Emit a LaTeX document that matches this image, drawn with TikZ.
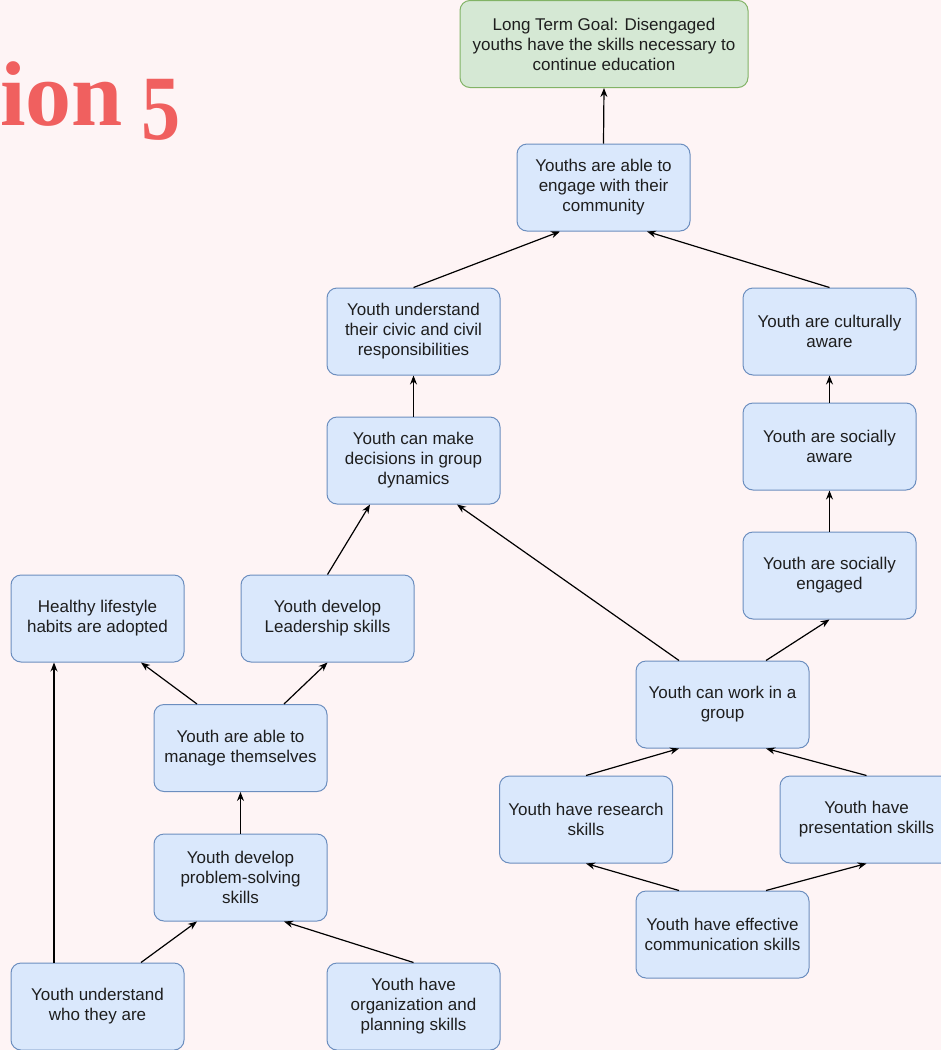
\documentclass[tikz,border=0pt]{standalone}
\usepackage{fontspec}
\usepackage{graphicx}
\setmainfont{Liberation Sans}
\newfontfamily\titlefont{Liberation Serif}
\usetikzlibrary{arrows.meta,calc}
\definecolor{pagebg}{HTML}{FEF4F5}
\definecolor{titlered}{HTML}{F0605F}
\definecolor{bluefill}{HTML}{DAE8FC}
\definecolor{blueline}{HTML}{6C8EBF}
\definecolor{greenfill}{HTML}{D5E8D4}
\definecolor{greenline}{HTML}{82B366}
\definecolor{ink}{HTML}{1E1E1E}
\begin{document}
\begin{tikzpicture}[x=1pt,y=-1pt,
  box/.style={draw=blueline,fill=bluefill,rounded corners=10pt,line width=1pt,
    minimum width=173pt,minimum height=87pt,inner sep=2pt,align=center,
    text=ink,font=\fontsize{17}{20}\selectfont},
  goalbox/.style={box,draw=greenline,fill=greenfill,minimum width=288pt},
  link/.style={draw=black,line width=1.2pt,-{Stealth[length=9pt,width=7pt]}}]
\fill[pagebg] (0,0) rectangle (941,1050);
\useasboundingbox (0,0) rectangle (941,1050);

% heading fragment (old-style figure imitated by lowering a narrowed digit)
\node[anchor=base west,inner sep=0pt,text=titlered,
  font=\titlefont\bfseries\fontsize{92}{92}\selectfont] (title) at (0,125)
  {ion\hspace{0.2em}\raisebox{-14pt}{\scalebox{0.85}[1]{5}}};

% outcome boxes
\node[goalbox] (goal) at (604,44) {Long Term Goal: Disengaged\\youths have the skills necessary to\\continue education};
\node[box] (engage) at (603.5,187.5) {Youths are able to\\engage with their\\community};
\node[box] (civic) at (413.5,331.5) {Youth understand\\their civic and civil\\responsibilities};
\node[box] (cultural) at (829.5,331.5) {Youth are culturally\\aware};
\node[box] (decide) at (413.5,460.5) {Youth can make\\decisions in group\\dynamics};
\node[box] (saware) at (829.5,446.5) {Youth are socially\\aware};
\node[box] (sengaged) at (829.5,575.5) {Youth are socially\\engaged};
\node[box] (healthy) at (97.5,618.5) {Healthy lifestyle\\habits are adopted};
\node[box] (lead) at (327.5,618.5) {Youth develop\\Leadership skills};
\node[box] (group) at (722.5,704.5) {Youth can work in a\\group};
\node[box] (manage) at (240.5,748) {Youth are able to\\manage themselves};
\node[box] (research) at (586,819.5) {Youth have research\\skills};
\node[box] (present) at (866.5,819.5) {Youth have\\presentation skills};
\node[box] (problem) at (240.5,877.5) {Youth develop\\problem-solving\\skills};
\node[box] (comm) at (722.5,934.5) {Youth have effective\\communication skills};
\node[box] (self) at (97.5,1006.5) {Youth understand\\who they are};
\node[box] (org) at (413.5,1006.5) {Youth have\\organization and\\planning skills};

% connectors (quarter points along top / bottom edges)
\draw[link] (engage.north) -- (goal.south);
\draw[link] (civic.north) -- ($(engage.south west)!.25!(engage.south east)$);
\draw[link] (cultural.north) -- ($(engage.south west)!.75!(engage.south east)$);
\draw[link] (decide.north) -- (civic.south);
\draw[link] (saware.north) -- (cultural.south);
\draw[link] (sengaged.north) -- (saware.south);
\draw[link] (lead.north) -- ($(decide.south west)!.25!(decide.south east)$);
\draw[link] ($(group.north west)!.25!(group.north east)$) -- ($(decide.south west)!.75!(decide.south east)$);
\draw[link] ($(group.north west)!.75!(group.north east)$) -- (sengaged.south);
\draw[link] ($(manage.north west)!.25!(manage.north east)$) -- ($(healthy.south west)!.75!(healthy.south east)$);
\draw[link] ($(manage.north west)!.75!(manage.north east)$) -- (lead.south);
\draw[link] (problem.north) -- (manage.south);
\draw[link] ($(self.north west)!.25!(self.north east)$) -- ($(healthy.south west)!.25!(healthy.south east)$);
\draw[link] ($(self.north west)!.75!(self.north east)$) -- ($(problem.south west)!.25!(problem.south east)$);
\draw[link] (org.north) -- ($(problem.south west)!.75!(problem.south east)$);
\draw[link] (research.north) -- ($(group.south west)!.25!(group.south east)$);
\draw[link] (present.north) -- ($(group.south west)!.75!(group.south east)$);
\draw[link] ($(comm.north west)!.25!(comm.north east)$) -- (research.south);
\draw[link] ($(comm.north west)!.75!(comm.north east)$) -- (present.south);
\end{tikzpicture}
\end{document}
